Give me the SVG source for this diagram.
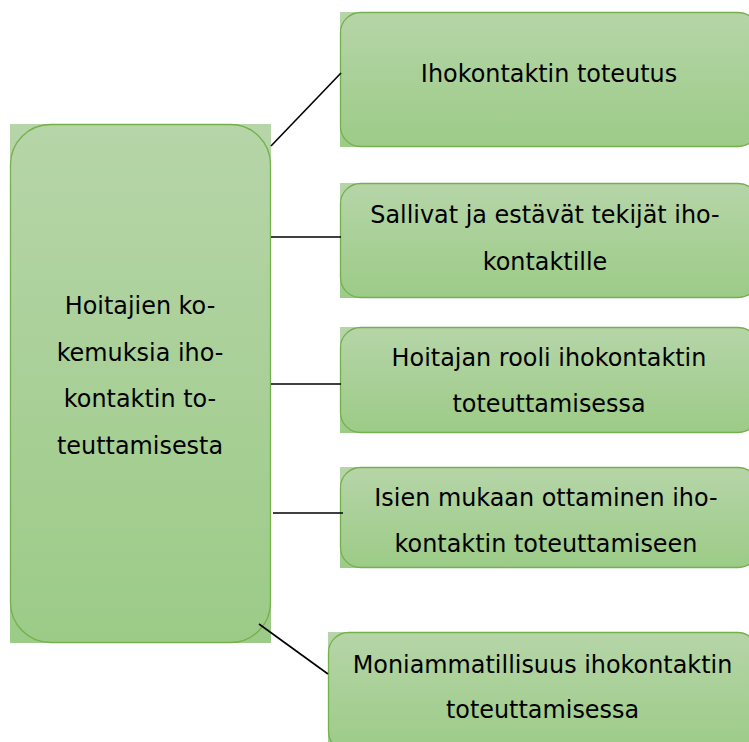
<svg xmlns="http://www.w3.org/2000/svg" width="749" height="742" viewBox="0 0 749 742">
  <defs>
    <linearGradient id="boxFill" x1="0" y1="0" x2="0" y2="1">
      <stop offset="0" stop-color="#b6d5a8"/>
      <stop offset="1" stop-color="#9ccb87"/>
    </linearGradient>
    <style>
      .fill { fill: url(#boxFill); stroke: none; }
      .edge { fill: none; stroke: #74b04c; stroke-width: 1.3; }
      .label { font-family: "DejaVu Sans", "Noto Sans", sans-serif; font-size: 23.9px; fill: #000; text-anchor: middle; }
      .link { stroke: #000; stroke-width: 1.6; fill: none; }
    </style>
  </defs>

  <rect width="749" height="742" fill="#ffffff"/>

  <!-- central theme -->
  <g id="main">
    <rect class="fill" x="10" y="124" width="261" height="519"/>
    <rect class="edge" x="10.5" y="124.5" width="260" height="518" rx="40" ry="40"/>
    <text class="label" x="140" y="314">Hoitajien ko-</text>
    <text class="label" x="140" y="361">kemuksia iho-</text>
    <text class="label" x="140" y="407">kontaktin to-</text>
    <text class="label" x="140" y="454">teuttamisesta</text>
  </g>

  <g id="sub1">
    <rect class="fill" x="340" y="12" width="200" height="135"/>
    <rect class="fill" x="340" y="12" width="418" height="135" rx="20" ry="20"/>
    <rect class="edge" x="340.5" y="12.5" width="418" height="134" rx="20" ry="20"/>
    <text class="label" x="549" y="82">Ihokontaktin toteutus</text>
  </g>

  <g id="sub2">
    <rect class="fill" x="340" y="183" width="200" height="115"/>
    <rect class="fill" x="340" y="183" width="418" height="115" rx="20" ry="20"/>
    <rect class="edge" x="340.5" y="183.5" width="418" height="114" rx="20" ry="20"/>
    <text class="label" x="545" y="223">Sallivat ja estävät tekijät iho-</text>
    <text class="label" x="545" y="270">kontaktille</text>
  </g>

  <g id="sub3">
    <rect class="fill" x="340" y="327" width="200" height="106"/>
    <rect class="fill" x="340" y="327" width="418" height="106" rx="20" ry="20"/>
    <rect class="edge" x="340.5" y="327.5" width="418" height="105" rx="20" ry="20"/>
    <text class="label" x="549" y="366">Hoitajan rooli ihokontaktin</text>
    <text class="label" x="549" y="412">toteuttamisessa</text>
  </g>

  <g id="sub4">
    <rect class="fill" x="340" y="467" width="200" height="101"/>
    <rect class="fill" x="340" y="467" width="418" height="101" rx="20" ry="20"/>
    <rect class="edge" x="340.5" y="467.5" width="418" height="100" rx="20" ry="20"/>
    <text class="label" x="546" y="506">Isien mukaan ottaminen iho-</text>
    <text class="label" x="546" y="552">kontaktin toteuttamiseen</text>
  </g>

  <g id="sub5">
    <rect class="fill" x="328" y="632" width="200" height="120"/>
    <rect class="fill" x="328" y="632" width="429" height="120" rx="20" ry="20"/>
    <rect class="edge" x="328.5" y="632.5" width="429" height="119" rx="20" ry="20"/>
    <text class="label" x="542.5" y="673">Moniammatillisuus ihokontaktin</text>
    <text class="label" x="542.5" y="718">toteuttamisessa</text>
  </g>

  <!-- connectors, drawn over the box edges -->
  <g id="connectors">
    <line class="link" x1="271" y1="146" x2="341" y2="73"/>
    <line class="link" x1="271" y1="237" x2="341" y2="237"/>
    <line class="link" x1="271" y1="384" x2="341" y2="384"/>
    <line class="link" x1="273" y1="513" x2="343" y2="513"/>
    <line class="link" x1="259" y1="624" x2="328" y2="674"/>
  </g>
</svg>
